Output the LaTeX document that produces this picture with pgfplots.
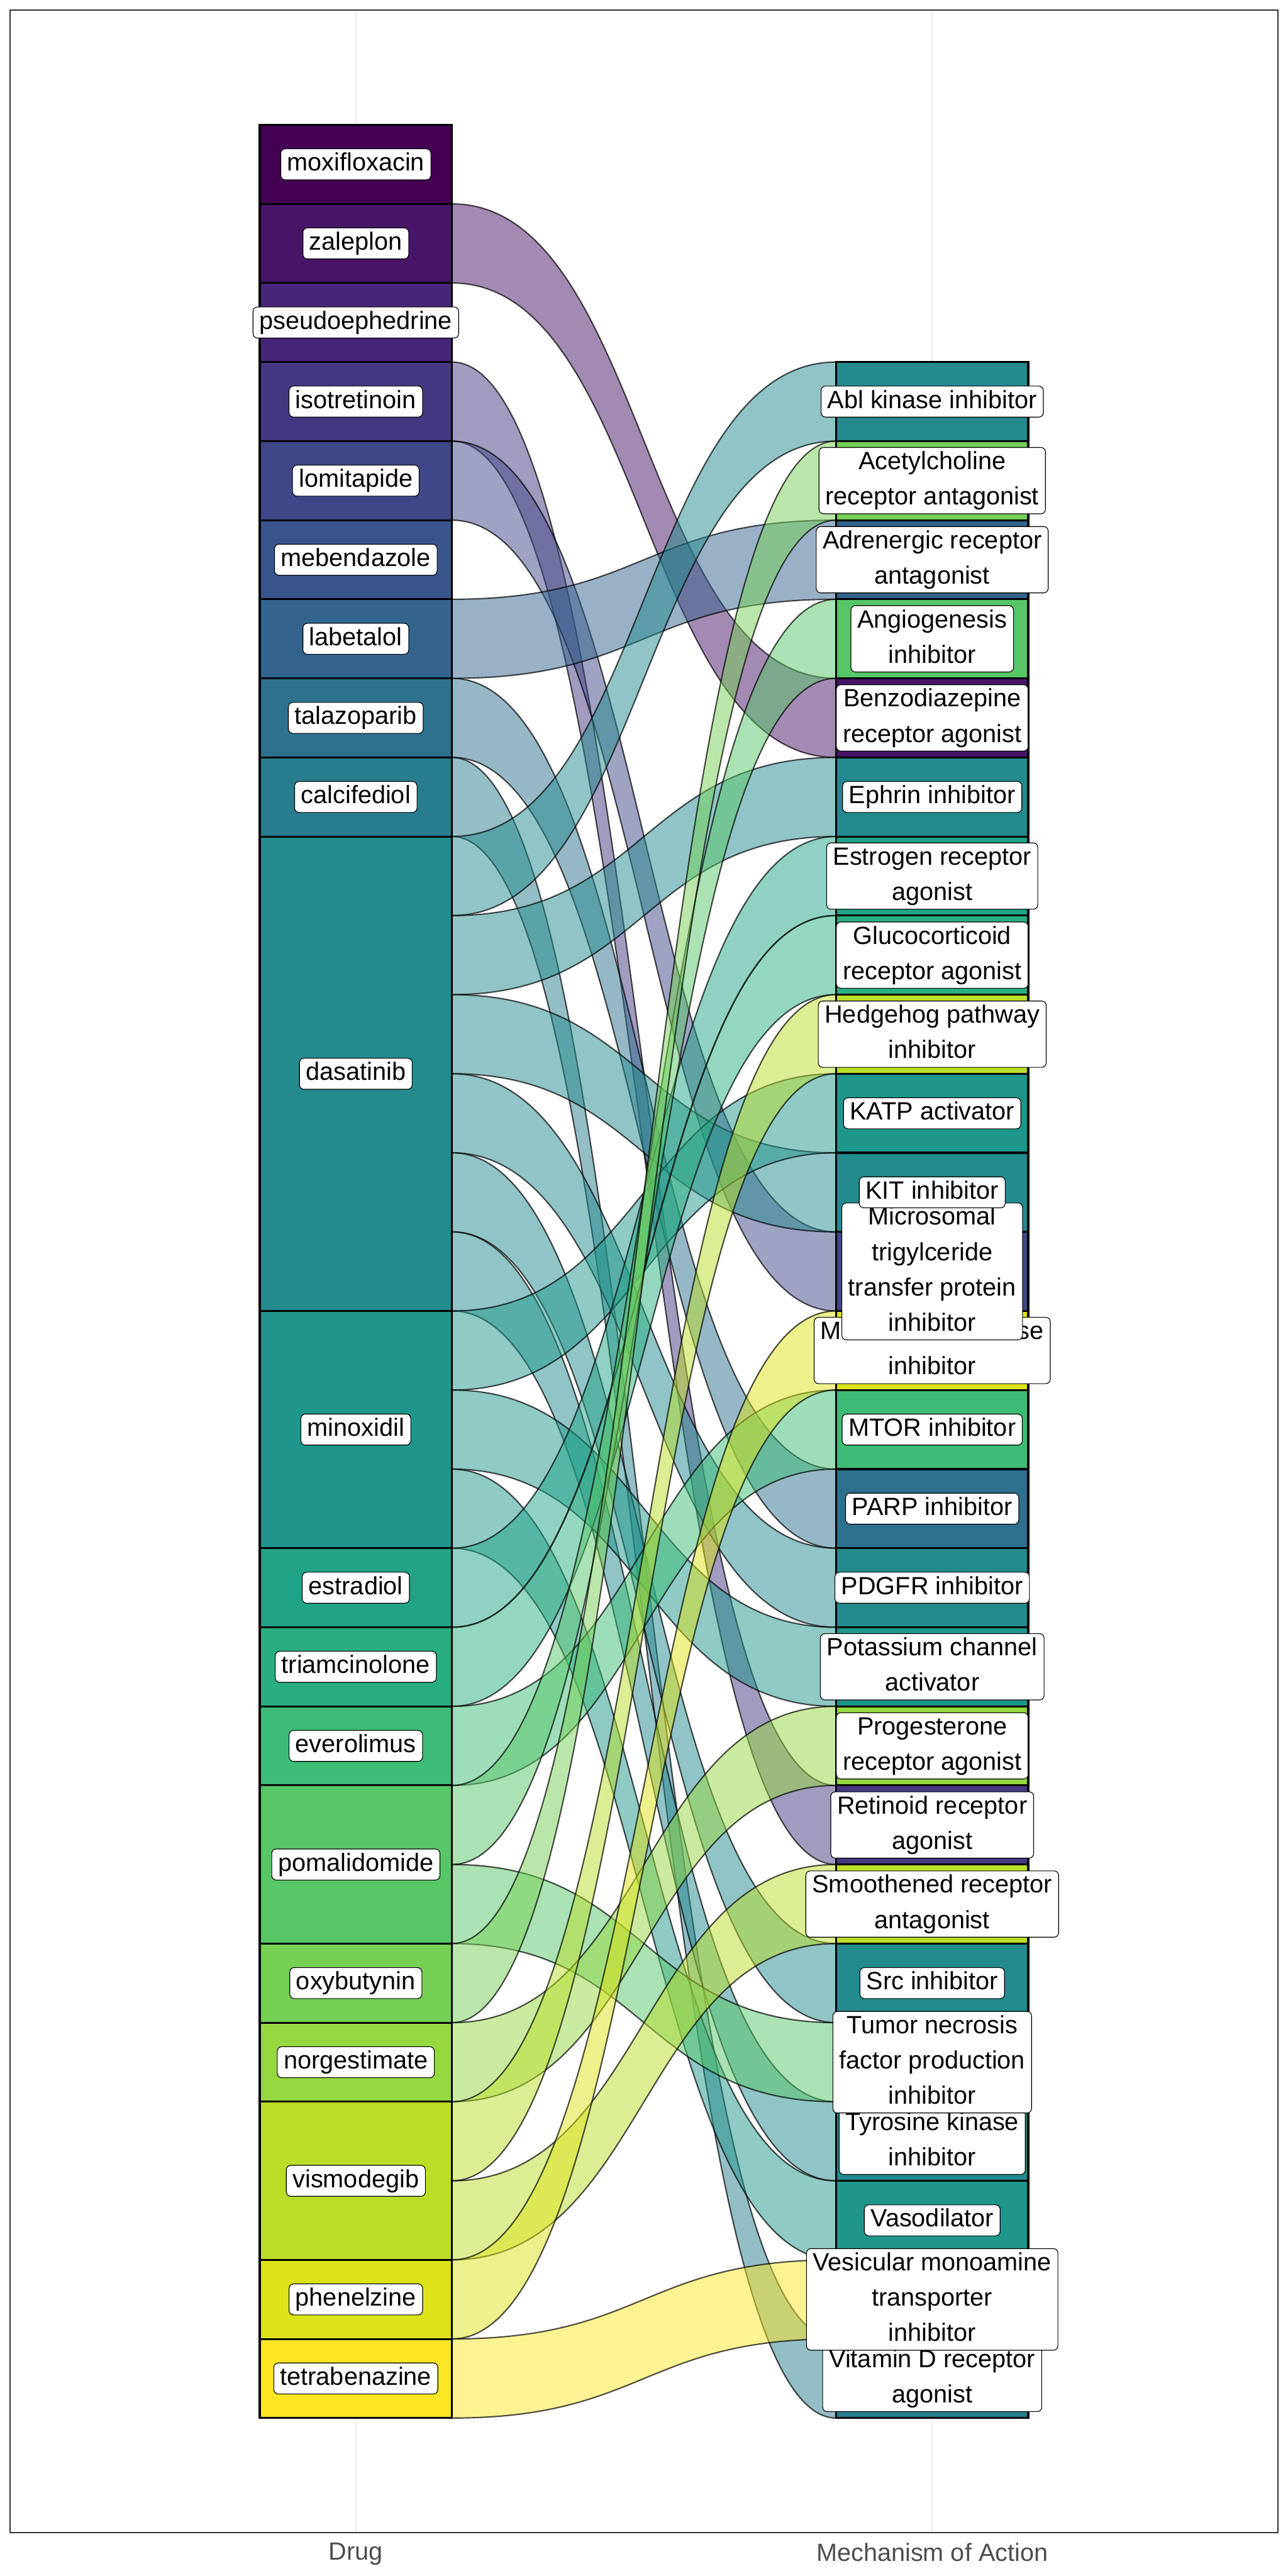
\documentclass[border=0pt]{standalone}
\usepackage{fontspec}
\setmainfont{Liberation Sans}
\usepackage{pgfplots}
\pgfplotsset{compat=1.18}

\definecolor{c1}{HTML}{440154}
\definecolor{c2}{HTML}{481568}
\definecolor{c3}{HTML}{482677}
\definecolor{c4}{HTML}{453781}
\definecolor{c5}{HTML}{3F4788}
\definecolor{c6}{HTML}{39558C}
\definecolor{c7}{HTML}{32648E}
\definecolor{c8}{HTML}{2D718E}
\definecolor{c9}{HTML}{287D8E}
\definecolor{c10}{HTML}{238A8D}
\definecolor{c11}{HTML}{1F968B}
\definecolor{c12}{HTML}{20A386}
\definecolor{c13}{HTML}{29AF7F}
\definecolor{c14}{HTML}{3CBC75}
\definecolor{c15}{HTML}{56C667}
\definecolor{c16}{HTML}{75D054}
\definecolor{c17}{HTML}{95D840}
\definecolor{c18}{HTML}{BADE28}
\definecolor{c19}{HTML}{DDE318}
\definecolor{c20}{HTML}{FDE725}
\definecolor{gridc}{HTML}{EBEBEB}
\definecolor{borderc}{HTML}{333333}
\definecolor{tickc}{HTML}{4D4D4D}

\newcommand{\st}{\rule[-3pt]{0pt}{13.4pt}}
\tikzset{lab/.style={draw=black, line width=0.4pt, fill=white, rounded corners=2.5pt,
  inner xsep=3.6pt, inner ysep=2pt, align=center,
  font=\fontsize{14}{19.8}\selectfont, text=black}}

% flow: left bottom, left top, right bottom, right top, colour
\newcommand{\flow}[5]{%
  \filldraw[fill=#5, fill opacity=0.5, draw=black, draw opacity=0.7, line width=0.75pt]
   (axis cs:1.16667,#2) .. controls (axis cs:1.5,#2) and (axis cs:1.5,#4) .. (axis cs:1.83333,#4)
   -- (axis cs:1.83333,#3) .. controls (axis cs:1.5,#3) and (axis cs:1.5,#1) .. (axis cs:1.16667,#1) -- cycle;}
% stratum on the Drug axis: bottom, top, colour
\newcommand{\lstr}[3]{%
  \addplot[fill=#3, draw=black, line width=1.1pt, mark=none, forget plot]
   coordinates {(0.83333,#1) (1.16667,#1) (1.16667,#2) (0.83333,#2)} -- cycle;}
% stratum on the Mechanism axis
\newcommand{\rstr}[3]{%
  \addplot[fill=#3, draw=black, line width=1.1pt, mark=none, forget plot]
   coordinates {(1.83333,#1) (2.16667,#1) (2.16667,#2) (1.83333,#2)} -- cycle;}

\begin{document}
\begin{tikzpicture}
\useasboundingbox (0,0) rectangle (722.7pt,1445.4pt);
\begin{axis}[
  at={(5.61pt,24.3pt)}, anchor=south west,
  width=711.5pt, height=1415.4pt, scale only axis,
  xmin=0.4, xmax=2.6, ymin=-1.45, ymax=30.45,
  xtick={1,2}, xticklabels={Drug,Mechanism of Action},
  ytick=\empty, major tick length=0pt,
  xmajorgrids, grid style={gridc, line width=0.8pt},
  axis line style={borderc, line width=0.5pt},
  xticklabel style={font=\fontsize{14}{16}\selectfont, text=tickc, inner sep=0pt, anchor=north, yshift=-5.5pt},
  clip=false]

% ---- flows (Drug unit -> Mechanism unit)
\flow{27}{28}{21}{22}{c2}   % zaleplon -> Benzodiazepine receptor agonist
\flow{25}{26}{7}{8}{c4}     % isotretinoin -> Retinoid receptor agonist
\flow{24}{25}{14}{15}{c5}   % lomitapide -> Microsomal TG transfer protein inhibitor
\flow{22}{23}{23}{24}{c7}   % labetalol -> Adrenergic receptor antagonist
\flow{21}{22}{11}{12}{c8}   % talazoparib -> PARP inhibitor
\flow{20}{21}{0}{1}{c9}     % calcifediol -> Vitamin D receptor agonist
\flow{19}{20}{25}{26}{c10}  % dasatinib -> Abl kinase inhibitor
\flow{18}{19}{20}{21}{c10}  % dasatinib -> Ephrin inhibitor
\flow{17}{18}{15}{16}{c10}  % dasatinib -> KIT inhibitor
\flow{16}{17}{10}{11}{c10}  % dasatinib -> PDGFR inhibitor
\flow{15}{16}{5}{6}{c10}    % dasatinib -> Src inhibitor
\flow{14}{15}{3}{4}{c10}    % dasatinib -> Tyrosine kinase inhibitor
\flow{13}{14}{16}{17}{c11}  % minoxidil -> KATP activator
\flow{12}{13}{9}{10}{c11}   % minoxidil -> Potassium channel activator
\flow{11}{12}{2}{3}{c11}    % minoxidil -> Vasodilator
\flow{10}{11}{19}{20}{c12}  % estradiol -> Estrogen receptor agonist
\flow{9}{10}{18}{19}{c13}   % triamcinolone -> Glucocorticoid receptor agonist
\flow{8}{9}{12}{13}{c14}    % everolimus -> MTOR inhibitor
\flow{7}{8}{22}{23}{c15}    % pomalidomide -> Angiogenesis inhibitor
\flow{6}{7}{4}{5}{c15}      % pomalidomide -> TNF production inhibitor
\flow{5}{6}{24}{25}{c16}    % oxybutynin -> Acetylcholine receptor antagonist
\flow{4}{5}{8}{9}{c17}      % norgestimate -> Progesterone receptor agonist
\flow{3}{4}{17}{18}{c18}    % vismodegib -> Hedgehog pathway inhibitor
\flow{2}{3}{6}{7}{c18}      % vismodegib -> Smoothened receptor antagonist
\flow{1}{2}{13}{14}{c19}    % phenelzine -> Monoamine oxidase inhibitor
\flow{0}{1}{1}{2}{c20}      % tetrabenazine -> VMAT inhibitor

% ---- Drug strata
\lstr{28}{29}{c1}
\lstr{27}{28}{c2}
\lstr{26}{27}{c3}
\lstr{25}{26}{c4}
\lstr{24}{25}{c5}
\lstr{23}{24}{c6}
\lstr{22}{23}{c7}
\lstr{21}{22}{c8}
\lstr{20}{21}{c9}
\lstr{14}{20}{c10}
\lstr{11}{14}{c11}
\lstr{10}{11}{c12}
\lstr{9}{10}{c13}
\lstr{8}{9}{c14}
\lstr{6}{8}{c15}
\lstr{5}{6}{c16}
\lstr{4}{5}{c17}
\lstr{2}{4}{c18}
\lstr{1}{2}{c19}
\lstr{0}{1}{c20}

% ---- Mechanism strata
\rstr{25}{26}{c10}
\rstr{24}{25}{c16}
\rstr{23}{24}{c7}
\rstr{22}{23}{c15}
\rstr{21}{22}{c2}
\rstr{20}{21}{c10}
\rstr{19}{20}{c12}
\rstr{18}{19}{c13}
\rstr{17}{18}{c18}
\rstr{16}{17}{c11}
\rstr{15}{16}{c10}
\rstr{14}{15}{c5}
\rstr{13}{14}{c19}
\rstr{12}{13}{c14}
\rstr{11}{12}{c8}
\rstr{10}{11}{c10}
\rstr{9}{10}{c11}
\rstr{8}{9}{c17}
\rstr{7}{8}{c4}
\rstr{6}{7}{c18}
\rstr{5}{6}{c10}
\rstr{4}{5}{c15}
\rstr{3}{4}{c10}
\rstr{2}{3}{c11}
\rstr{1}{2}{c20}
\rstr{0}{1}{c9}

% ---- Drug labels
\node[lab] at (axis cs:1,28.5) {\st moxifloxacin};
\node[lab] at (axis cs:1,27.5) {\st zaleplon};
\node[lab] at (axis cs:1,26.5) {\st pseudoephedrine};
\node[lab] at (axis cs:1,25.5) {\st isotretinoin};
\node[lab] at (axis cs:1,24.5) {\st lomitapide};
\node[lab] at (axis cs:1,23.5) {\st mebendazole};
\node[lab] at (axis cs:1,22.5) {\st labetalol};
\node[lab] at (axis cs:1,21.5) {\st talazoparib};
\node[lab] at (axis cs:1,20.5) {\st calcifediol};
\node[lab] at (axis cs:1,17) {\st dasatinib};
\node[lab] at (axis cs:1,12.5) {\st minoxidil};
\node[lab] at (axis cs:1,10.5) {\st estradiol};
\node[lab] at (axis cs:1,9.5) {\st triamcinolone};
\node[lab] at (axis cs:1,8.5) {\st everolimus};
\node[lab] at (axis cs:1,7) {\st pomalidomide};
\node[lab] at (axis cs:1,5.5) {\st oxybutynin};
\node[lab] at (axis cs:1,4.5) {\st norgestimate};
\node[lab] at (axis cs:1,3) {\st vismodegib};
\node[lab] at (axis cs:1,1.5) {\st phenelzine};
\node[lab] at (axis cs:1,0.5) {\st tetrabenazine};

% ---- Mechanism labels (bottom first, so higher ones lie on top)
\node[lab] at (axis cs:2,0.5) {\st Vitamin D receptor\\\st agonist};
\node[lab] at (axis cs:2,1.5) {\st Vesicular monoamine\\\st transporter\\\st inhibitor};
\node[lab] at (axis cs:2,2.5) {\st Vasodilator};
\node[lab] at (axis cs:2,3.5) {\st Tyrosine kinase\\\st inhibitor};
\node[lab] at (axis cs:2,4.5) {\st Tumor necrosis\\\st factor production\\\st inhibitor};
\node[lab] at (axis cs:2,5.5) {\st Src inhibitor};
\node[lab] at (axis cs:2,6.5) {\st Smoothened receptor\\\st antagonist};
\node[lab] at (axis cs:2,7.5) {\st Retinoid receptor\\\st agonist};
\node[lab] at (axis cs:2,8.5) {\st Progesterone\\\st receptor agonist};
\node[lab] at (axis cs:2,9.5) {\st Potassium channel\\\st activator};
\node[lab] at (axis cs:2,10.5) {\st PDGFR inhibitor};
\node[lab] at (axis cs:2,11.5) {\st PARP inhibitor};
\node[lab] at (axis cs:2,12.5) {\st MTOR inhibitor};
\node[lab] at (axis cs:2,13.5) {\st Monoamine oxidase\\\st inhibitor};
\node[lab] at (axis cs:2,14.5) {\st Microsomal\\\st trigylceride\\\st transfer protein\\\st inhibitor};
\node[lab] at (axis cs:2,15.5) {\st KIT inhibitor};
\node[lab] at (axis cs:2,16.5) {\st KATP activator};
\node[lab] at (axis cs:2,17.5) {\st Hedgehog pathway\\\st inhibitor};
\node[lab] at (axis cs:2,18.5) {\st Glucocorticoid\\\st receptor agonist};
\node[lab] at (axis cs:2,19.5) {\st Estrogen receptor\\\st agonist};
\node[lab] at (axis cs:2,20.5) {\st Ephrin inhibitor};
\node[lab] at (axis cs:2,21.5) {\st Benzodiazepine\\\st receptor agonist};
\node[lab] at (axis cs:2,22.5) {\st Angiogenesis\\\st inhibitor};
\node[lab] at (axis cs:2,23.5) {\st Adrenergic receptor\\\st antagonist};
\node[lab] at (axis cs:2,24.5) {\st Acetylcholine\\\st receptor antagonist};
\node[lab] at (axis cs:2,25.5) {\st Abl kinase inhibitor};
\end{axis}
\end{tikzpicture}
\end{document}
